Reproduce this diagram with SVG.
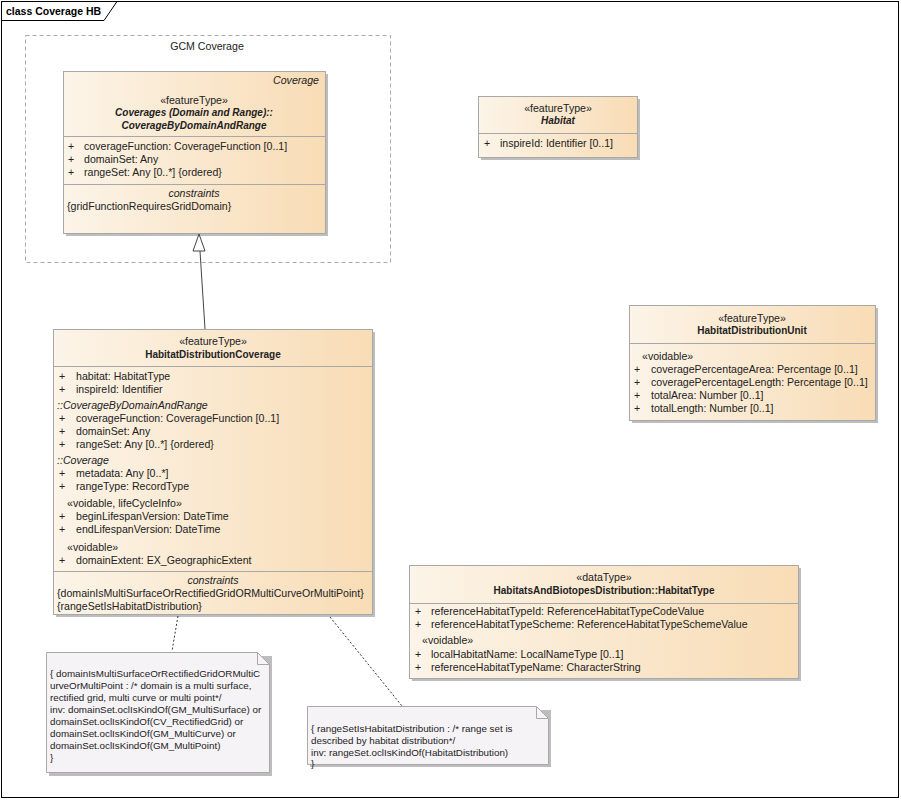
<svg xmlns="http://www.w3.org/2000/svg" width="901" height="800" viewBox="0 0 901 800">
<style>
text{font-family:"Liberation Sans",Arial,sans-serif;font-size:10.6px;fill:#222}
.c{text-anchor:middle}
.b{font-weight:bold;font-size:10px}
.i{font-style:italic}
.r{text-anchor:end}
.n{font-size:9.8px}
.box{fill:url(#g);stroke:#a8a8a8;stroke-width:1}
.sh{fill:#bdbdbd}
.sep{stroke:#a8a8a8;stroke-width:1}
.note{fill:#f6f3f6;stroke:#a8a8a8;stroke-width:1}
</style>
<defs>
<linearGradient id="g" x1="0" y1="0" x2="1" y2="0">
<stop offset="0" stop-color="#fcf4e8"/>
<stop offset="1" stop-color="#f8dcb5"/>
</linearGradient>
</defs>
<rect x="0" y="0" width="901" height="800" fill="#fff"/>
<g id="frame">
<rect x="1.5" y="1.5" width="897" height="796" fill="none" stroke="#000"/>
<path d="M1.5 20.5 H104 L117 1.5" fill="none" stroke="#000"/>
<text x="6" y="15" class="b" style="font-size:10.5px;fill:#000">class Coverage HB</text>
</g>
<g id="gcm">
<rect x="25.5" y="35.5" width="365" height="227" fill="none" stroke="#aaa" stroke-dasharray="4,3"/>
<text x="207" y="50" class="c">GCM Coverage</text>
</g>
<g id="Coverage">
<rect x="66" y="74" width="262" height="162" class="sh"/>
<rect x="63.5" y="71.5" width="262" height="162" class="box"/>
<text x="319" y="84" class="r i">Coverage</text>
<text x="194" y="104" class="c">«featureType»</text>
<text x="194" y="116" class="c b i">Coverages (Domain and Range)::</text>
<text x="194" y="129" class="c b i">CoverageByDomainAndRange</text>
<line x1="63.5" y1="136.5" x2="325.5" y2="136.5" class="sep"/>
<text x="68" y="150">+</text><text x="84" y="150">coverageFunction: CoverageFunction [0..1]</text>
<text x="68" y="163">+</text><text x="84" y="163">domainSet: Any</text>
<text x="68" y="176">+</text><text x="84" y="176">rangeSet: Any [0..*] {ordered}</text>
<line x1="63.5" y1="184.5" x2="325.5" y2="184.5" class="sep"/>
<text x="194" y="197" class="c i">constraints</text>
<text x="67" y="210">{gridFunctionRequiresGridDomain}</text>
</g>
<g id="Habitat">
<rect x="481" y="99" width="159" height="61" class="sh"/>
<rect x="478.5" y="96.5" width="159" height="61" class="box"/>
<text x="558" y="112" class="c">«featureType»</text>
<text x="558" y="124" class="c b i">Habitat</text>
<line x1="478.5" y1="133.5" x2="637.5" y2="133.5" class="sep"/>
<text x="484" y="147">+</text><text x="500" y="147">inspireId: Identifier [0..1]</text>
</g>
<g id="HabitatDistributionUnit">
<rect x="632" y="308" width="246" height="115" class="sh"/>
<rect x="629.5" y="305.5" width="246" height="115" class="box"/>
<text x="752" y="322" class="c">«featureType»</text>
<text x="752" y="334" class="c b">HabitatDistributionUnit</text>
<line x1="629.5" y1="343.5" x2="875.5" y2="343.5" class="sep"/>
<text x="642" y="360">«voidable»</text>
<text x="634" y="373">+</text><text x="651" y="373">coveragePercentageArea: Percentage [0..1]</text>
<text x="634" y="386">+</text><text x="651" y="386">coveragePercentageLength: Percentage [0..1]</text>
<text x="634" y="399">+</text><text x="651" y="399">totalArea: Number [0..1]</text>
<text x="634" y="412">+</text><text x="651" y="412">totalLength: Number [0..1]</text>
</g>
<g id="HabitatDistributionCoverage">
<rect x="56" y="332" width="319" height="285" class="sh"/>
<rect x="53.5" y="329.5" width="319" height="285" class="box"/>
<text x="213" y="345" class="c">«featureType»</text>
<text x="213" y="358" class="c b">HabitatDistributionCoverage</text>
<line x1="53.5" y1="366.5" x2="372.5" y2="366.5" class="sep"/>
<text x="59" y="380">+</text><text x="76" y="380">habitat: HabitatType</text>
<text x="59" y="393">+</text><text x="76" y="393">inspireId: Identifier</text>
<text x="57" y="409" class="i">::CoverageByDomainAndRange</text>
<text x="59" y="422">+</text><text x="76" y="422">coverageFunction: CoverageFunction [0..1]</text>
<text x="59" y="435">+</text><text x="76" y="435">domainSet: Any</text>
<text x="59" y="448">+</text><text x="76" y="448">rangeSet: Any [0..*] {ordered}</text>
<text x="57" y="464" class="i">::Coverage</text>
<text x="59" y="477">+</text><text x="76" y="477">metadata: Any [0..*]</text>
<text x="59" y="490">+</text><text x="76" y="490">rangeType: RecordType</text>
<text x="67" y="507">«voidable, lifeCycleInfo»</text>
<text x="59" y="520">+</text><text x="76" y="520">beginLifespanVersion: DateTime</text>
<text x="59" y="533">+</text><text x="76" y="533">endLifespanVersion: DateTime</text>
<text x="67" y="551">«voidable»</text>
<text x="59" y="564">+</text><text x="76" y="564">domainExtent: EX_GeographicExtent</text>
<line x1="53.5" y1="571.5" x2="372.5" y2="571.5" class="sep"/>
<text x="213" y="584" class="c i">constraints</text>
<text x="57" y="597">{domainIsMultiSurfaceOrRectifiedGridORMultiCurveOrMultiPoint}</text>
<text x="57" y="610">{rangeSetIsHabitatDistribution}</text>
</g>
<g id="HabitatType">
<rect x="412" y="568" width="389" height="113" class="sh"/>
<rect x="409.5" y="565.5" width="389" height="113" class="box"/>
<text x="604" y="581" class="c">«dataType»</text>
<text x="604" y="594" class="c b">HabitatsAndBiotopesDistribution::HabitatType</text>
<line x1="409.5" y1="603.5" x2="798.5" y2="603.5" class="sep"/>
<text x="415" y="615">+</text><text x="431" y="615">referenceHabitatTypeId: ReferenceHabitatTypeCodeValue</text>
<text x="415" y="628">+</text><text x="431" y="628">referenceHabitatTypeScheme: ReferenceHabitatTypeSchemeValue</text>
<text x="422" y="644">«voidable»</text>
<text x="415" y="658">+</text><text x="431" y="658">localHabitatName: LocalNameType [0..1]</text>
<text x="415" y="671">+</text><text x="431" y="671">referenceHabitatTypeName: CharacterString</text>
</g>
<g id="note1">
<path d="M49 656 H272 V776 H49 Z" class="sh"/>
<path d="M46.5 652.5 H257.5 L269.5 664.5 V772.5 H46.5 Z" class="note"/>
<path d="M257.5 652.5 V664.5 H269.5" fill="none" stroke="#a8a8a8"/>
<text x="50" y="677" class="n">{ domainIsMultiSurfaceOrRectifiedGridORMultiC</text>
<text x="50" y="689" class="n">urveOrMultiPoint : /* domain is a multi surface,</text>
<text x="50" y="701" class="n">rectified grid, multi curve or multi point*/</text>
<text x="50" y="713" class="n">inv: domainSet.oclIsKindOf(GM_MultiSurface) or</text>
<text x="50" y="725" class="n">domainSet.oclIsKindOf(CV_RectifiedGrid) or</text>
<text x="50" y="737" class="n">domainSet.oclIsKindOf(GM_MultiCurve) or</text>
<text x="50" y="749" class="n">domainSet.oclIsKindOf(GM_MultiPoint)</text>
<text x="50" y="761" class="n">}</text>
</g>
<g id="note2">
<path d="M310 710 H551 V767 H310 Z" class="sh"/>
<path d="M307.5 706.5 H536.5 L548.5 718.5 V764.5 H307.5 Z" class="note"/>
<path d="M536.5 706.5 V718.5 H548.5" fill="none" stroke="#a8a8a8"/>
<text x="311" y="732" class="n">{ rangeSetIsHabitatDistribution : /* range set is</text>
<text x="311" y="744" class="n">described by habitat distribution*/</text>
<text x="311" y="756" class="n">inv: rangeSet.oclIsKindOf(HabitatDistribution)</text>
<text x="311" y="767" class="n">}</text>
</g>
<g id="connectors">
<line x1="205" y1="329" x2="200" y2="251" stroke="#444" stroke-width="1"/>
<path d="M199 234 L193 251 H205 Z" fill="#fff" stroke="#444" stroke-width="1"/>
<line x1="178" y1="616" x2="172" y2="651" stroke="#333" stroke-dasharray="2,2"/>
<line x1="330" y1="617" x2="402" y2="706" stroke="#333" stroke-dasharray="2,2"/>
</g>
</svg>
